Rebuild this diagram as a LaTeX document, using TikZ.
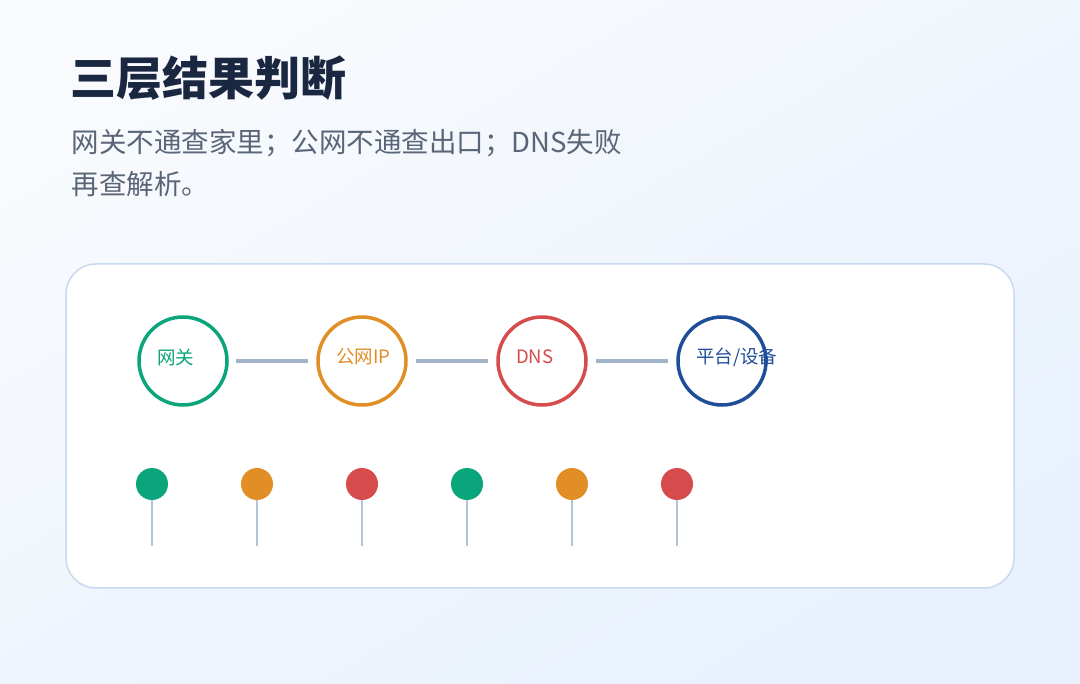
\documentclass[tikz,border=0pt]{standalone}
\usepackage{fontspec}
\setmainfont{Noto Sans CJK SC}
\newfontfamily\cjk{Noto Sans CJK SC}
\begin{document}
\definecolor{cg}{HTML}{0AA57A}
\definecolor{co}{HTML}{E28E27}
\definecolor{cr}{HTML}{D64B4B}
\definecolor{cb}{HTML}{1F4E99}
\definecolor{lnk}{HTML}{A3B3C8}
\definecolor{stem}{HTML}{B4C4D8}
\definecolor{ttl}{HTML}{1A2740}
\definecolor{sub}{HTML}{5A6578}
\definecolor{bgA}{HTML}{F8FAFD}
\definecolor{bgB}{HTML}{E8F1FD}
\definecolor{brd}{HTML}{CADAEE}
\begin{tikzpicture}[x=1pt,y=-1pt,
  ring/.style={circle,draw=#1,line width=3.5pt,minimum size=88pt,inner sep=0pt},
  lbl/.style={text=#1,font=\cjk\fontsize{18.5}{20}\selectfont},
  link/.style={draw=lnk,line width=3.5pt},
  dot/.style={circle,fill=#1,minimum size=32pt,inner sep=0pt},
  stm/.style={draw=stem,line width=2pt},
  subt/.style={anchor=base west,text=sub,font=\cjk\fontsize{27.5}{30}\selectfont}]
\shade[top color=bgA,bottom color=bgB,shading angle=30] (0,0) rectangle (1080,684);
\useasboundingbox (0,0) rectangle (1080,684);
\node[anchor=base west,text=ttl,font=\cjk\bfseries\fontsize{46}{50}\selectfont] (t) at (67,96) {三层结果判断};
\node[subt] (s1) at (68,153) {网关不通查家里；公网不通查出口；DNS失败};
\node[subt] (s2) at (68,195) {再查解析。};
\draw[draw=brd,line width=1.5pt,fill=white,rounded corners=30pt] (66,264) rectangle (1014,588);
\foreach \n/\x/\c/\t in {a/183/cg/{网关},b/362/co/{公网IP},c/542/cr/{DNS},d/722/cb/{平台/设备}}{
  \node[ring=\c] (\n) at (\x,361) {};
  \node[lbl=\c,anchor=west,inner sep=0pt] (\n l) at (\x-26,357) {\t};
}
\draw[link] (236,361) coordinate (p1) -- (308,361) coordinate (p2);
\draw[link] (416,361) coordinate (p3) -- (488,361) coordinate (p4);
\draw[link] (596,361) coordinate (p5) -- (668,361) coordinate (p6);
\foreach \i/\x/\c in {1/152/cg,2/257/co,3/362/cr,4/467/cg,5/572/co,6/677/cr}{
  \coordinate (e\i) at (\x,546);
  \draw[stm] (\x,500) -- (e\i);
  \node[dot=\c] (d\i) at (\x,484) {};
}
\end{tikzpicture}
\end{document}
